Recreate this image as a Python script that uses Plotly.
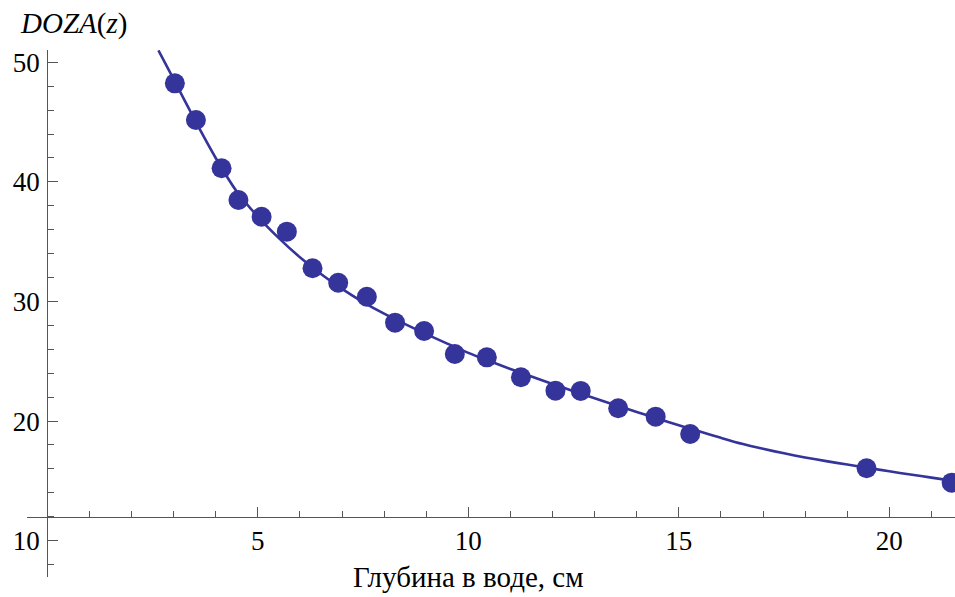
import plotly.graph_objects as go

# measured data points (depth in cm, dose)
depth = [3.03, 3.53, 4.14, 4.54, 5.09, 5.69, 6.30, 6.91, 7.59, 8.26, 8.95,
         9.68, 10.44, 11.25, 12.07, 12.67, 13.56, 14.45, 15.27, 19.46, 21.48]
dose = [48.24, 45.18, 41.14, 38.49, 37.09, 35.84, 32.78, 31.57, 30.40, 28.23, 27.53,
        25.61, 25.33, 23.66, 22.54, 22.52, 21.07, 20.37, 18.92, 16.05, 14.85]

# fitted curve
curve_x = [2.64, 3.0, 3.5, 4.0, 4.5, 5.0, 5.5, 6.0, 6.5, 7.0, 7.5, 8.0, 8.5, 9.0, 9.5,
           10.0, 10.5, 11.0, 11.5, 12.0, 12.5, 13.0, 13.5, 14.0, 14.5, 15.0, 15.5,
           16.0, 16.5, 17.0, 17.5, 18.0, 18.5, 19.0, 19.5, 20.0, 20.5, 21.0, 21.6]
curve_y = [51.0, 48.6, 45.2, 42.0, 39.2, 37.1, 35.3, 33.7, 32.3, 31.05, 29.95, 28.98,
           28.1, 27.27, 26.48, 25.7, 25.02, 24.36, 23.72, 23.1, 22.5, 21.91, 21.33,
           20.76, 20.2, 19.65, 19.12, 18.6, 18.1, 17.68, 17.3, 16.96, 16.65, 16.36,
           16.08, 15.8, 15.53, 15.27, 14.96]

x_ticks = [5, 10, 15, 20]
y_ticks = [10, 20, 30, 40, 50]

color = "#34349A"
axis_color = "#555555"
font_family = "Liberation Serif, Times New Roman, serif"

X_RANGE = [-0.482, 21.56]
Y_RANGE = [6.96, 51.03]

fig = go.Figure()
fig.add_trace(go.Scatter(x=curve_x, y=curve_y, mode="lines",
                         line=dict(color=color, width=2.6, shape="spline", smoothing=0.6),
                         hoverinfo="skip", showlegend=False))
fig.add_trace(go.Scatter(x=depth, y=dose, mode="markers",
                         marker=dict(color=color, size=20, line=dict(width=0)),
                         showlegend=False, cliponaxis=False))

xpos = (12 - Y_RANGE[0]) / (Y_RANGE[1] - Y_RANGE[0])
ypos = (0 - X_RANGE[0]) / (X_RANGE[1] - X_RANGE[0])

fig.update_layout(
    width=955, height=597,
    margin=dict(l=27, r=0, t=50, b=20),
    plot_bgcolor="white", paper_bgcolor="white",
    font=dict(family=font_family, size=26, color="black"),
    xaxis=dict(range=X_RANGE, anchor="free", position=xpos, automargin=False,
               showgrid=False, zeroline=False, showline=True,
               linecolor=axis_color, linewidth=1.3,
               tickvals=x_ticks, ticktext=[str(v) for v in x_ticks],
               ticks="inside", ticklen=10, tickcolor=axis_color, tickwidth=1.3,
               minor=dict(ticks="inside", dtick=1, tick0=0, ticklen=6,
                          tickcolor=axis_color, tickwidth=1.3, showgrid=False),
               tickfont=dict(family=font_family, size=27),
               ticklabelstandoff=0),
    yaxis=dict(range=Y_RANGE, anchor="free", position=ypos, automargin=False,
               showgrid=False, zeroline=False, showline=True,
               linecolor=axis_color, linewidth=1.3,
               tickvals=y_ticks, ticktext=[str(v) for v in y_ticks],
               ticks="inside", ticklen=10, tickcolor=axis_color, tickwidth=1.3,
               minor=dict(ticks="inside", dtick=2, tick0=0, ticklen=6,
                          tickcolor=axis_color, tickwidth=1.3, showgrid=False),
               tickfont=dict(family=font_family, size=27),
               ticklabelstandoff=2),
    annotations=[
        dict(text="<i>DOZA</i>(<i>z</i>)", xref="paper", yref="paper",
             x=-0.0097, y=1.05, xanchor="left", yanchor="middle",
             showarrow=False, font=dict(family=font_family, size=29)),
        dict(text="Глубина в воде, см", xref="x", yref="paper",
             x=10.0, y=0.034, xanchor="center", yanchor="top",
             showarrow=False, font=dict(family=font_family, size=29)),
    ],
)

fig.write_html("out.html", config={"displayModeBar": False},
               post_script="document.body.style.margin='0';document.body.style.overflow='hidden';")
